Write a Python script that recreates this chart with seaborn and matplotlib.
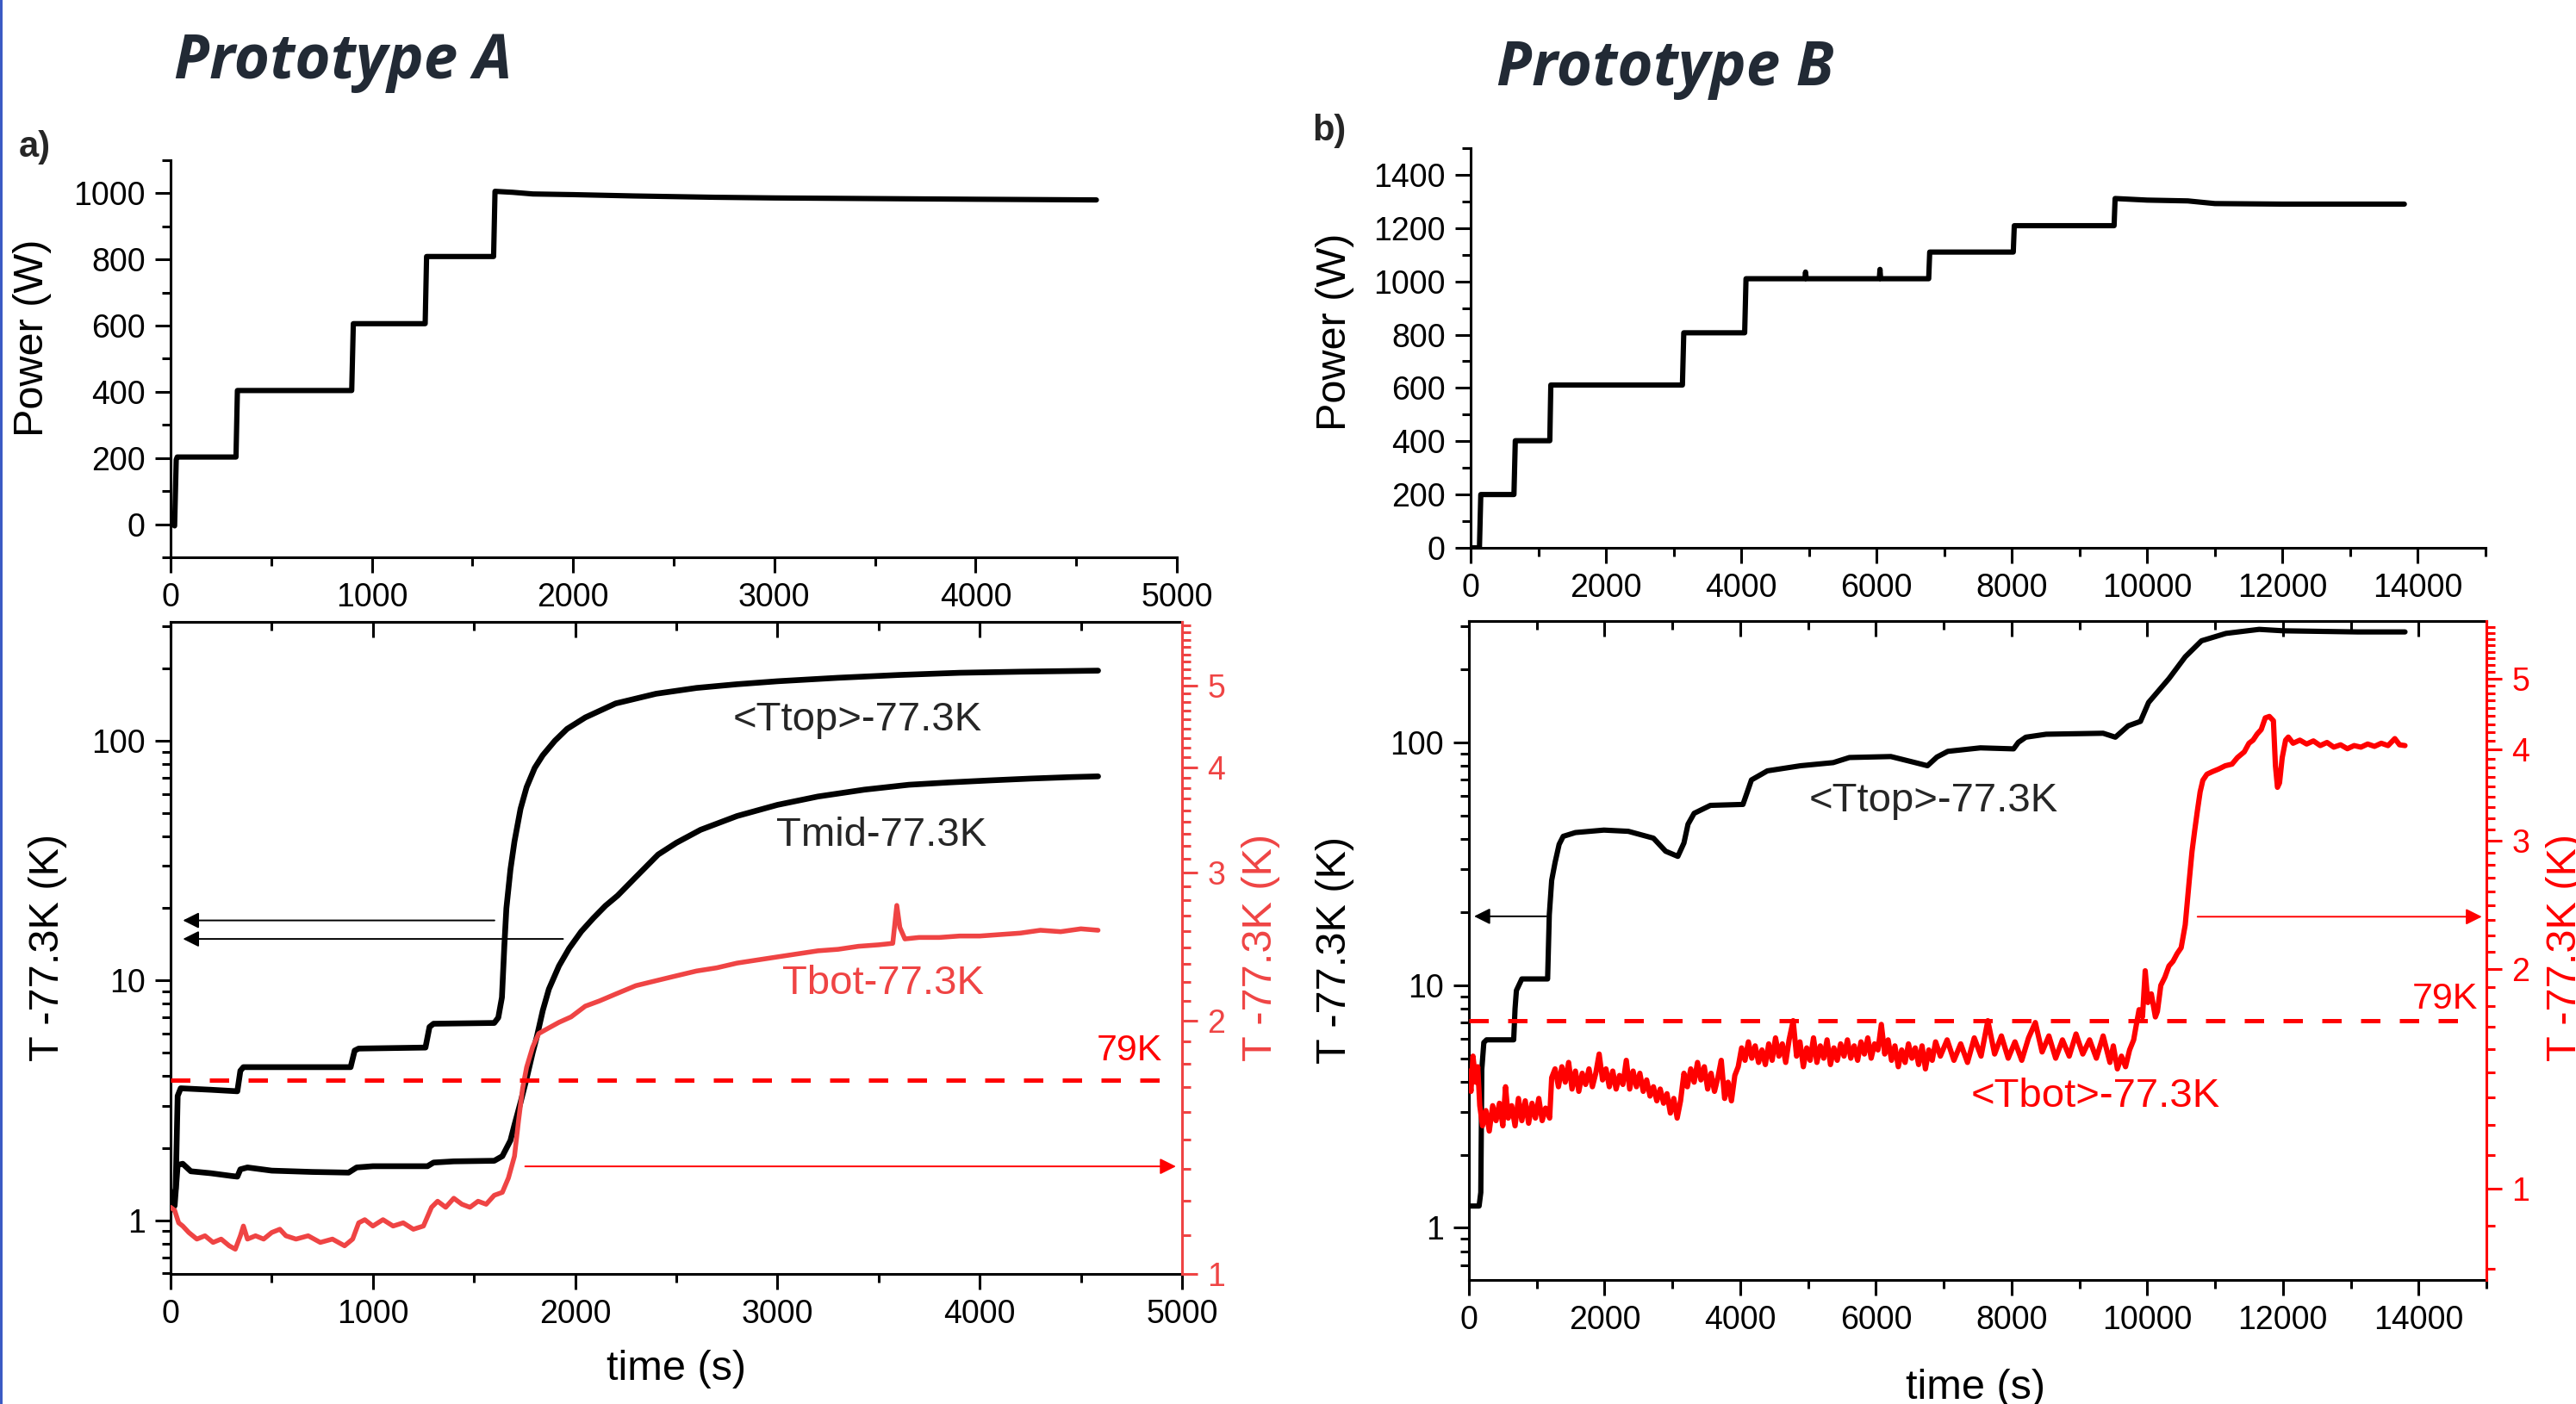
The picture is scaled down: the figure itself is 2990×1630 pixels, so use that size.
import matplotlib
matplotlib.use("Agg")
import matplotlib.pyplot as plt
import matplotlib.ticker as mticker
import seaborn as sns
import numpy as np

# --- Configuration ---
W, H, DPI = 2990, 1630, 100
RED_A = '#ef4444'   # Tbot curve / right axis, prototype A
RED = '#ff0000'
TITLE_COLOR = '#222a35'
output_filename = 'out.png'

# --- Data ---
# Prototype A: heater power (time s, W)
pow_a_t = [0, 12, 20, 28, 33, 325, 332, 900, 908, 1265, 1272, 1605, 1612, 1700,
           1800, 2000, 2300, 2700, 3000, 3500, 4000, 4600]
pow_a_w = [0, 0, -5, 195, 203, 203, 404, 404, 606, 606, 809, 809, 1006, 1003,
           998, 996, 992, 988, 986, 984, 982, 980]

# Prototype B: heater power (time s, W)
pow_b_t = [0, 130, 150, 640, 660, 1170, 1185, 3130, 3150, 4050, 4070, 4940, 4950,
           4960, 6040, 6050, 6060, 6770, 6785, 8020, 8035, 9510, 9525, 10000,
           10600, 11000, 12000, 13000, 13800]
pow_b_w = [0, 0, 200, 200, 402, 402, 611, 611, 807, 807, 1010, 1010, 1035,
           1010, 1010, 1045, 1010, 1010, 1110, 1110, 1209, 1209, 1311, 1305,
           1302, 1292, 1290, 1290, 1290]

# Prototype A temperatures above 77.3 K (left axis, K)
ttop_a_t = [0, 25, 35, 50, 200, 330, 345, 360, 600, 890, 910, 930, 1260, 1280,
            1300, 1600, 1620, 1638, 1650, 1660, 1680, 1700, 1730, 1760, 1800,
            1840, 1900, 1960, 2050, 2200, 2400, 2600, 2800, 3000, 3300, 3600,
            3900, 4200, 4585]
ttop_a_k = [1.15, 1.35, 3.3, 3.55, 3.5, 3.45, 4.2, 4.35, 4.35, 4.35, 5.1, 5.2,
            5.25, 6.4, 6.6, 6.65, 7.0, 8.5, 14, 20, 29, 38, 52, 64, 77, 87, 100,
            112, 125, 143, 157, 166, 172, 177, 183, 188, 192, 194, 196]

tmid_a_t = [0, 20, 35, 60, 100, 200, 300, 330, 345, 380, 500, 700, 880, 920,
            1000, 1270, 1300, 1400, 1600, 1640, 1680, 1700, 1730, 1760, 1790,
            1810, 1840, 1870, 1920, 1970, 2030, 2090, 2150, 2210, 2300, 2410,
            2500, 2620, 2800, 3000, 3200, 3430, 3650, 3850, 4050, 4250, 4450, 4585]
tmid_a_k = [1.10, 1.15, 1.70, 1.72, 1.60, 1.57, 1.53, 1.52, 1.63, 1.66, 1.61,
            1.59, 1.58, 1.66, 1.68, 1.68, 1.74, 1.76, 1.77, 1.85, 2.15, 2.5,
            3.1, 3.9, 5.0, 5.8, 7.5, 9.2, 11.5, 13.6, 16.0, 18.2, 20.5, 22.6,
            27.0, 33.5, 37.5, 42.5, 48.5, 54, 58.5, 62.5, 65.5, 67, 68.3, 69.5,
            70.5, 71]

# Prototype A bottom temperature (right axis, K)
tbot_a_t = [0, 20, 40, 60, 90, 130, 170, 210, 250, 290, 320, 345, 360, 380, 420,
            460, 500, 540, 570, 620, 680, 740, 800, 860, 900, 930, 960, 1000,
            1050, 1100, 1150, 1200, 1250, 1290, 1320, 1360, 1400, 1440, 1480,
            1520, 1560, 1600, 1640, 1670, 1700, 1720, 1740, 1760, 1790, 1820,
            1870, 1920, 1980, 2050, 2120, 2200, 2300, 2400, 2500, 2600, 2700,
            2800, 2900, 3000, 3100, 3200, 3300, 3400, 3500, 3570, 3590, 3605,
            3630, 3700, 3800, 3900, 4000, 4100, 4200, 4300, 4400, 4500, 4585]
tbot_a_k = [1.20, 1.19, 1.15, 1.14, 1.12, 1.10, 1.11, 1.09, 1.10, 1.08, 1.07,
            1.11, 1.14, 1.10, 1.11, 1.10, 1.12, 1.13, 1.11, 1.10, 1.11, 1.09,
            1.10, 1.08, 1.10, 1.15, 1.16, 1.14, 1.16, 1.14, 1.15, 1.13, 1.14,
            1.20, 1.22, 1.20, 1.23, 1.21, 1.20, 1.22, 1.21, 1.24, 1.25, 1.30,
            1.38, 1.52, 1.66, 1.76, 1.86, 1.93, 1.96, 1.99, 2.02, 2.08, 2.11,
            2.15, 2.20, 2.23, 2.26, 2.29, 2.31, 2.34, 2.36, 2.38, 2.40, 2.42,
            2.43, 2.45, 2.46, 2.47, 2.74, 2.58, 2.50, 2.51, 2.51, 2.52, 2.52,
            2.53, 2.54, 2.56, 2.55, 2.57, 2.56]

# Prototype B <Ttop> (left axis, K)
ttop_b_t = [0, 150, 175, 190, 220, 260, 660, 680, 700, 780, 1160, 1185, 1220,
            1270, 1330, 1390, 1570, 1990, 2350, 2720, 2900, 3080, 3170, 3230,
            3320, 3560, 4040, 4100, 4165, 4400, 4890, 5370, 5610, 6220, 6580,
            6760, 6900, 7060, 7540, 8030, 8100, 8210, 8510, 9350, 9530, 9720,
            9900, 10020, 10320, 10560, 10800, 11160, 11650, 12010, 13100, 13800]
ttop_b_k = [1.23, 1.23, 1.40, 4.5, 5.8, 5.95, 5.95, 8.0, 9.5, 10.6, 10.6, 19.5,
            27, 32, 38, 41, 42.5, 43.5, 43, 40.3, 35.6, 33.9, 38.5, 46, 51, 55,
            55.5, 62, 70, 76.3, 80.1, 82.5, 86.6, 87.4, 82.5, 80.1, 87, 91.8,
            94.9, 94.0, 100, 105, 108, 109, 105, 117, 122, 146, 183, 225, 262,
            281, 292, 288, 285, 285]

# Prototype B <Tbot> (right axis, K)
tbot_b = [(0, 1.45), (30, 1.36), (60, 1.52), (100, 1.40), (130, 1.47), (160, 1.30),
          (200, 1.22), (250, 1.28), (300, 1.20), (350, 1.30), (400, 1.24), (450, 1.31),
          (500, 1.22), (540, 1.38), (580, 1.25), (630, 1.30), (680, 1.22), (730, 1.33),
          (780, 1.24), (830, 1.32), (880, 1.23), (930, 1.31), (980, 1.25), (1030, 1.33),
          (1080, 1.24), (1130, 1.29), (1190, 1.25), (1220, 1.42), (1270, 1.46),
          (1320, 1.38), (1370, 1.47), (1420, 1.40), (1470, 1.49), (1520, 1.37),
          (1570, 1.45), (1620, 1.36), (1670, 1.44), (1720, 1.39), (1770, 1.46),
          (1820, 1.38), (1870, 1.44), (1920, 1.53), (1970, 1.41), (2020, 1.46),
          (2070, 1.38), (2120, 1.45), (2170, 1.37), (2220, 1.43), (2270, 1.39),
          (2320, 1.50), (2370, 1.37), (2420, 1.45), (2470, 1.38), (2520, 1.44),
          (2570, 1.36), (2620, 1.41), (2670, 1.34), (2720, 1.38), (2770, 1.32),
          (2820, 1.37), (2870, 1.31), (2920, 1.35), (2970, 1.27), (3020, 1.33),
          (3070, 1.25), (3120, 1.32), (3170, 1.44), (3220, 1.38), (3270, 1.46),
          (3320, 1.40), (3370, 1.49), (3420, 1.41), (3470, 1.47), (3520, 1.37),
          (3570, 1.44), (3620, 1.36), (3670, 1.42), (3720, 1.50), (3770, 1.33),
          (3820, 1.40), (3870, 1.32), (3920, 1.43), (3970, 1.47), (4020, 1.56),
          (4070, 1.50), (4120, 1.59), (4170, 1.51), (4220, 1.57), (4270, 1.49),
          (4320, 1.55), (4370, 1.48), (4420, 1.58), (4470, 1.50), (4520, 1.61),
          (4570, 1.52), (4620, 1.58), (4670, 1.49), (4720, 1.60), (4780, 1.70),
          (4830, 1.52), (4880, 1.59), (4930, 1.47), (4980, 1.56), (5030, 1.50),
          (5080, 1.61), (5130, 1.49), (5180, 1.57), (5230, 1.51), (5280, 1.60),
          (5330, 1.48), (5380, 1.56), (5430, 1.50), (5480, 1.58), (5530, 1.52),
          (5580, 1.60), (5630, 1.51), (5680, 1.57), (5730, 1.50), (5780, 1.59),
          (5830, 1.53), (5880, 1.61), (5930, 1.51), (5980, 1.58), (6030, 1.55),
          (6080, 1.68), (6130, 1.53), (6180, 1.60), (6230, 1.50), (6280, 1.57),
          (6330, 1.47), (6380, 1.55), (6430, 1.49), (6480, 1.58), (6530, 1.51),
          (6580, 1.56), (6630, 1.48), (6680, 1.57), (6730, 1.46), (6780, 1.55),
          (6830, 1.50), (6880, 1.59), (6950, 1.52), (7050, 1.60), (7150, 1.50),
          (7250, 1.58), (7350, 1.49), (7450, 1.61), (7550, 1.52), (7650, 1.70),
          (7750, 1.53), (7850, 1.62), (7950, 1.51), (8050, 1.59), (8150, 1.50),
          (8250, 1.61), (8350, 1.69), (8450, 1.54), (8550, 1.62), (8650, 1.51),
          (8750, 1.60), (8850, 1.52), (8950, 1.63), (9050, 1.53), (9150, 1.60),
          (9250, 1.51), (9350, 1.62), (9450, 1.49), (9500, 1.57), (9560, 1.46),
          (9620, 1.52), (9680, 1.47), (9740, 1.55), (9800, 1.60), (9830, 1.66),
          (9880, 1.76), (9930, 1.72), (9970, 1.99), (10010, 1.80), (10060, 1.85),
          (10120, 1.72), (10150, 1.75), (10200, 1.90), (10260, 1.95), (10320, 2.02),
          (10380, 2.05), (10440, 2.10), (10500, 2.14), (10560, 2.30), (10620, 2.65),
          (10660, 2.90), (10700, 3.10), (10740, 3.30), (10780, 3.50), (10820, 3.63),
          (10880, 3.70), (10960, 3.73), (11050, 3.76), (11150, 3.80), (11250, 3.82),
          (11330, 3.90), (11430, 3.97), (11500, 4.08), (11560, 4.12), (11620, 4.20),
          (11680, 4.26), (11740, 4.42), (11800, 4.44), (11860, 4.38), (11890, 3.80),
          (11920, 3.55), (11950, 3.60), (11990, 3.90), (12040, 4.12), (12080, 4.16),
          (12150, 4.08), (12250, 4.12), (12350, 4.07), (12450, 4.11), (12550, 4.05),
          (12650, 4.09), (12750, 4.03), (12850, 4.06), (12950, 4.01), (13050, 4.05),
          (13150, 4.03), (13250, 4.07), (13350, 4.04), (13450, 4.08), (13550, 4.05),
          (13650, 4.14), (13720, 4.06), (13800, 4.05)]

# 79 K limit = 1.7 K above 77.3 K (right axes)
limit_k = 1.7
limit_span_a = [0, 4900]
limit_span_b = [0, 14750]

# --- Style ---
sns.set_theme(style="ticks")
plt.rcParams['font.family'] = ['Liberation Sans', 'DejaVu Sans']
plt.rcParams['axes.linewidth'] = 2.2
plt.rcParams['axes.edgecolor'] = 'black'
plt.rcParams['xtick.color'] = 'black'
plt.rcParams['ytick.color'] = 'black'

fig = plt.figure(figsize=(W / DPI, H / DPI), dpi=DPI)


def px_rect(x0, y0, x1, y1):
    return [x0 / W, 1 - y1 / H, (x1 - x0) / W, (y1 - y0) / H]


def fig_xy(x, y):
    return x / W, 1 - y / H


def ticks(ax, axis='both', color='black'):
    ax.tick_params(axis=axis, which='major', direction='out', length=13, width=2.2,
                   labelsize=27, pad=8, colors=color)
    ax.tick_params(axis=axis, which='minor', direction='out', length=7, width=2.2,
                   colors=color)


def put_label(axis, text, x, y, color='black', size=35):
    if axis.axis_name == 'x':
        axis.axes.set_xlabel(text, fontsize=size, color=color)
    else:
        axis.axes.set_ylabel(text, fontsize=size, color=color)
    axis.set_label_coords(*fig_xy(x, y), transform=fig.transFigure)
    axis.label.set_verticalalignment('center')
    axis.label.set_horizontalalignment('center')


def trace(ax, t, v, color, lw):
    sns.lineplot(x=list(t), y=list(v), ax=ax, color=color, linewidth=lw,
                 sort=False, estimator=None, legend=False)


# --- Power panels ---
ax_pa = fig.add_axes(px_rect(198, 186, 1366, 647))
ax_pb = fig.add_axes(px_rect(1707, 172, 2885, 636))

trace(ax_pa, pow_a_t, pow_a_w, 'black', 4.4)
trace(ax_pb, pow_b_t, pow_b_w, 'black', 4.4)

ax_pa.set_xlim(0, 5000)
ax_pa.set_ylim(-100, 1100)
ax_pa.xaxis.set_major_locator(mticker.MultipleLocator(1000))
ax_pa.xaxis.set_minor_locator(mticker.MultipleLocator(500))
ax_pa.yaxis.set_major_locator(mticker.FixedLocator([0, 200, 400, 600, 800, 1000]))
ax_pa.yaxis.set_minor_locator(mticker.FixedLocator(np.arange(-100, 1101, 100)))

ax_pb.set_xlim(0, 15000)
ax_pb.set_ylim(0, 1500)
ax_pb.xaxis.set_major_locator(mticker.FixedLocator(np.arange(0, 14001, 2000)))
ax_pb.xaxis.set_minor_locator(mticker.MultipleLocator(1000))
ax_pb.yaxis.set_major_locator(mticker.FixedLocator(np.arange(0, 1401, 200)))
ax_pb.yaxis.set_minor_locator(mticker.MultipleLocator(100))

for ax in (ax_pa, ax_pb):
    ax.spines[['top', 'right']].set_visible(False)
    ticks(ax)

put_label(ax_pa.yaxis, 'Power (W)', 38, 392)
put_label(ax_pb.yaxis, 'Power (W)', 1549, 385)

# --- Temperature panels ---
ax_ta = fig.add_axes(px_rect(198, 722, 1372, 1479))
ax_tb = fig.add_axes(px_rect(1705, 721, 2886, 1486))


def temp_axes(ax, xmax, xmajor, xminor, ylim, rlim, rcolor, rminor):
    ax.set_yscale('log')
    ax.set_xlim(0, xmax)
    ax.set_ylim(*ylim)
    ax.xaxis.set_major_locator(mticker.FixedLocator(xmajor))
    ax.xaxis.set_minor_locator(mticker.MultipleLocator(xminor))
    ax.yaxis.set_major_locator(mticker.FixedLocator([1, 10, 100]))
    ax.yaxis.set_major_formatter(mticker.FuncFormatter(lambda v, _: f'{v:g}'))
    ax.yaxis.set_minor_locator(mticker.LogLocator(base=10, subs=np.arange(2, 10), numticks=30))
    ax.yaxis.set_minor_formatter(mticker.NullFormatter())
    ax.spines['right'].set_visible(False)
    ticks(ax)
    top = ax.secondary_xaxis('top')
    top.xaxis.set_major_locator(mticker.FixedLocator(xmajor))
    top.xaxis.set_minor_locator(mticker.MultipleLocator(xminor))
    top.tick_params(which='major', direction='in', length=13, width=2.2, labeltop=False)
    top.tick_params(which='minor', direction='in', length=7, width=2.2)
    top.spines['top'].set_linewidth(2.2)

    axr = ax.twinx()
    axr.set_yscale('log')
    axr.set_ylim(*rlim)
    axr.yaxis.set_major_locator(mticker.FixedLocator([1, 2, 3, 4, 5]))
    axr.yaxis.set_major_formatter(mticker.FuncFormatter(lambda v, _: f'{v:g}'))
    axr.yaxis.set_minor_locator(mticker.FixedLocator(rminor))
    axr.yaxis.set_minor_formatter(mticker.NullFormatter())
    axr.spines[['left', 'top', 'bottom']].set_visible(False)
    axr.spines['right'].set_color(rcolor)
    ticks(axr, axis='y', color=rcolor)
    return axr


ninths = [i + k / 9 for i in range(0, 6) for k in range(1, 9)]
axr_a = temp_axes(ax_ta, 5000, np.arange(0, 5001, 1000), 500, (0.597, 313),
                  (1, 5.95), RED_A, ninths)
axr_b = temp_axes(ax_tb, 15000, np.arange(0, 14001, 2000), 1000, (0.61, 316),
                  (0.75, 6.0), RED, ninths)

# curves
trace(ax_ta, ttop_a_t, ttop_a_k, 'black', 4.8)
trace(ax_ta, tmid_a_t, tmid_a_k, 'black', 4.8)
trace(axr_a, tbot_a_t, tbot_a_k, RED_A, 4.0)
axr_a.hlines(limit_k, *limit_span_a, colors=RED, linestyles=(0, (4.5, 4.5)), linewidth=3.6)

tb_t, tb_k = zip(*tbot_b)
trace(ax_tb, ttop_b_t, ttop_b_k, 'black', 4.4)
trace(axr_b, tb_t, tb_k, RED, 4.4)
axr_b.hlines(limit_k, *limit_span_b, colors=RED, linestyles=(0, (4.5, 4.5)), linewidth=3.6)

# the same limits again, seaborn may have autoscaled
ax_ta.set_xlim(0, 5000); ax_ta.set_ylim(0.597, 313); axr_a.set_ylim(1, 5.95)
ax_tb.set_xlim(0, 15000); ax_tb.set_ylim(0.61, 316); axr_b.set_ylim(0.75, 6.0)

# arrows pointing at the axis each curve belongs to
arrow_k = dict(arrowstyle='-|>', lw=1.4, mutation_scale=28, shrinkA=0, shrinkB=0)
ax_ta.annotate('', xy=(61, 17.8), xytext=(1601, 17.8), arrowprops=dict(color='black', **arrow_k))
ax_ta.annotate('', xy=(61, 14.9), xytext=(1940, 14.9), arrowprops=dict(color='black', **arrow_k))
axr_a.annotate('', xy=(4970, 1.342), xytext=(1753, 1.342), arrowprops=dict(color=RED, **arrow_k))
ax_tb.annotate('', xy=(76, 19.2), xytext=(1144, 19.2), arrowprops=dict(color='black', **arrow_k))
axr_b.annotate('', xy=(14934, 2.36), xytext=(10742, 2.36), arrowprops=dict(color=RED, **arrow_k))

# curve names
ax_ta.text(3394, 122, '<Ttop>-77.3K', fontsize=34, ha='center', va='center')
ax_ta.text(3514, 40.4, 'Tmid-77.3K', fontsize=34, ha='center', va='center')
ax_ta.text(3522, 9.7, 'Tbot-77.3K', fontsize=34, ha='center', va='center', color=RED_A)
ax_ta.text(4902, 5.1, '79K', fontsize=31, ha='right', va='center', color=RED)
ax_tb.text(6847, 57.3, '<Ttop>-77.3K', fontsize=34, ha='center', va='center')
ax_tb.text(9243, 3.49, '<Tbot>-77.3K', fontsize=34, ha='center', va='center', color=RED)
ax_tb.text(14876, 8.78, '79K', fontsize=31, ha='right', va='center', color=RED)

put_label(ax_ta.yaxis, 'T -77.3K (K)', 55, 1100)
put_label(axr_a.yaxis, 'T -77.3K (K)', 1464, 1100, color=RED_A)
put_label(ax_ta.xaxis, 'time (s)', 785, 1590)
put_label(ax_tb.yaxis, 'T -77.3K (K)', 1550, 1103)
put_label(axr_b.yaxis, 'T -77.3K (K)', 2978, 1100, color=RED)
put_label(ax_tb.xaxis, 'time (s)', 2293, 1612)

# titles and panel letters
title_font = ['Open Sans', 'Lato', 'DejaVu Sans']
fig.text(*fig_xy(202, 91), 'Prototype A', fontsize=51, fontweight='bold', fontstyle='italic',
         family=title_font, color=TITLE_COLOR, ha='left', va='baseline')
fig.text(*fig_xy(1737, 99), 'Prototype B', fontsize=51, fontweight='bold', fontstyle='italic',
         family=title_font, color=TITLE_COLOR, ha='left', va='baseline')
fig.text(*fig_xy(22, 182), 'a)', fontsize=30, fontweight='bold', ha='left', va='baseline')
fig.text(*fig_xy(1523, 163), 'b)', fontsize=30, fontweight='bold', ha='left', va='baseline')

# slide border on the left edge
fig.add_artist(plt.Rectangle((0, 0), 3 / W, 1, transform=fig.transFigure,
                             color='#3b5bc4', lw=0))

fig.savefig(output_filename, dpi=DPI)
